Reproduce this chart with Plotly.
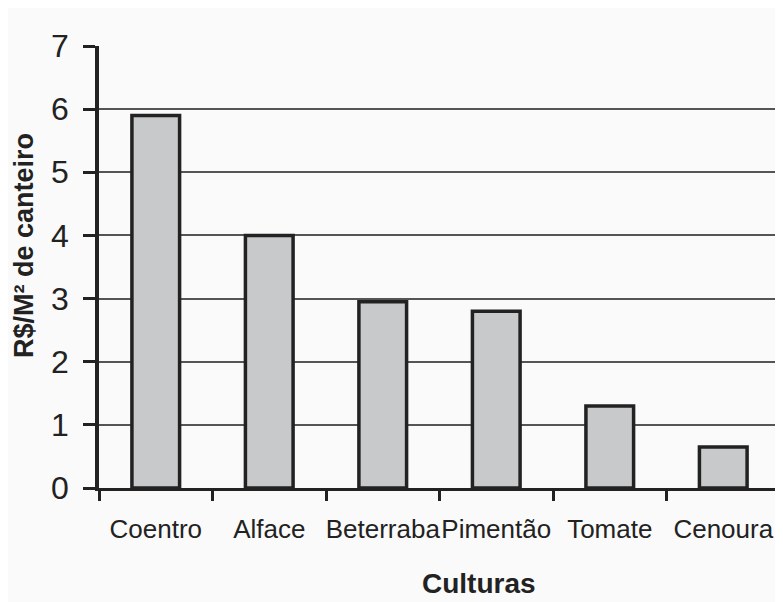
import plotly.graph_objects as go

categorias = ["Coentro", "Alface", "Beterraba", "Pimentão", "Tomate", "Cenoura"]
valores = [5.9, 4.0, 2.95, 2.8, 1.3, 0.65]
y_ticks = [0, 1, 2, 3, 4, 5, 6, 7]
titulo_x = "Culturas"
titulo_y = "R$/M² de canteiro"

fig = go.Figure()
fig.add_trace(go.Bar(
    x=categorias, y=valores,
    marker=dict(color="#c8c9cb", line=dict(color="#222222", width=3.5)),
    width=0.42,
))

font_family = "Liberation Sans, Arial, sans-serif"
fig.update_layout(
    width=783, height=602,
    margin=dict(l=91, r=11, t=38, b=122),
    paper_bgcolor="#fafafa", plot_bgcolor="#fafafa",
    showlegend=False,
    font=dict(family=font_family, color="#222222"),
)
fig.update_xaxes(
    showline=True, linecolor="#222222", linewidth=3,
    ticks="outside", tickson="boundaries", ticklen=10, tickwidth=3, tickcolor="#222222",
    tickfont=dict(size=26, color="#222222"), tickangle=0,
    ticklabelstandoff=16, automargin=False,
    showgrid=False,
)
fig.update_yaxes(
    range=[0, 7], tickvals=y_ticks,
    showline=True, linecolor="#222222", linewidth=3.5,
    ticks="outside", ticklen=12, tickwidth=3, tickcolor="#222222",
    tickfont=dict(size=32, color="#222222"),
    ticklabelstandoff=8, automargin=False,
    showgrid=True, gridcolor="#555555", gridwidth=2,
    zeroline=False,
)
fig.add_annotation(text="<b>" + titulo_x + "</b>", xref="paper", yref="paper",
                   x=0.558, y=-0.215, xanchor="center", yanchor="middle",
                   showarrow=False, font=dict(size=28, color="#222222"))
fig.add_annotation(text="<b>" + titulo_y + "</b>", xref="paper", yref="paper",
                   x=-0.110, y=0.5475, xanchor="center", yanchor="middle", textangle=-90,
                   showarrow=False, font=dict(size=27, color="#222222"))
fig.add_shape(type="line", xref="paper", yref="paper", x0=1, x1=1, y0=0, y1=1,
              line=dict(color="#444444", width=2))
fig.write_html("out.html")
